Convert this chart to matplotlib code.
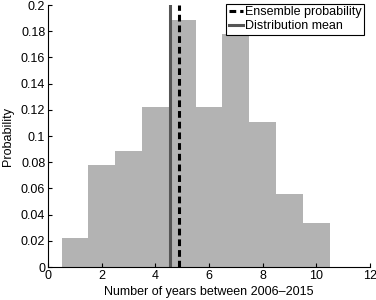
import matplotlib
matplotlib.use('Agg')
import matplotlib.pyplot as plt
from matplotlib.ticker import FuncFormatter

# Histogram of number of years (probabilities)
years = [1, 2, 3, 4, 5, 6, 7, 8, 9, 10]
probability = [0.0222, 0.0778, 0.0889, 0.1222, 0.1889, 0.1222, 0.1778, 0.1111, 0.0556, 0.0333]
ensemble_prob = 4.89
dist_mean = 4.56

plt.rcParams['font.family'] = ['Liberation Sans', 'DejaVu Sans']
plt.rcParams['font.size'] = 9

fig = plt.figure(figsize=(3.76, 3.0), dpi=100)
ax = fig.add_axes([0.128, 0.11, 0.856, 0.873])

ax.bar(years, probability, width=1.0, color='#b3b3b3', edgecolor='none')
ax.axvline(ensemble_prob, color='black', linestyle=(0, (2.2, 1.3)), linewidth=2.2, label='Ensemble probability')
ax.axvline(dist_mean, color='#555555', linestyle='-', linewidth=2.2, label='Distribution mean')

ax.set_xlim(0, 12)
ax.set_ylim(0, 0.2)
ax.set_xticks(range(0, 13, 2))
ax.set_yticks([i * 0.02 for i in range(11)])
ax.yaxis.set_major_formatter(FuncFormatter(lambda v, p: '%g' % round(v, 2)))
ax.tick_params(direction='in', length=3, width=0.8, pad=2)
ax.spines['top'].set_visible(False)
ax.spines['right'].set_visible(False)

ax.set_xlabel('Number of years between 2006\u20132015', labelpad=3)
ax.set_ylabel('Probability', labelpad=5)

leg = ax.legend(loc='upper right', bbox_to_anchor=(0.99, 1.015), fancybox=False, edgecolor='black',
                framealpha=1, handlelength=1.1, handletextpad=0.2, borderpad=0.2,
                labelspacing=0.15, borderaxespad=0.2)
leg.get_frame().set_linewidth(0.8)

fig.savefig('out.png', dpi=100)
